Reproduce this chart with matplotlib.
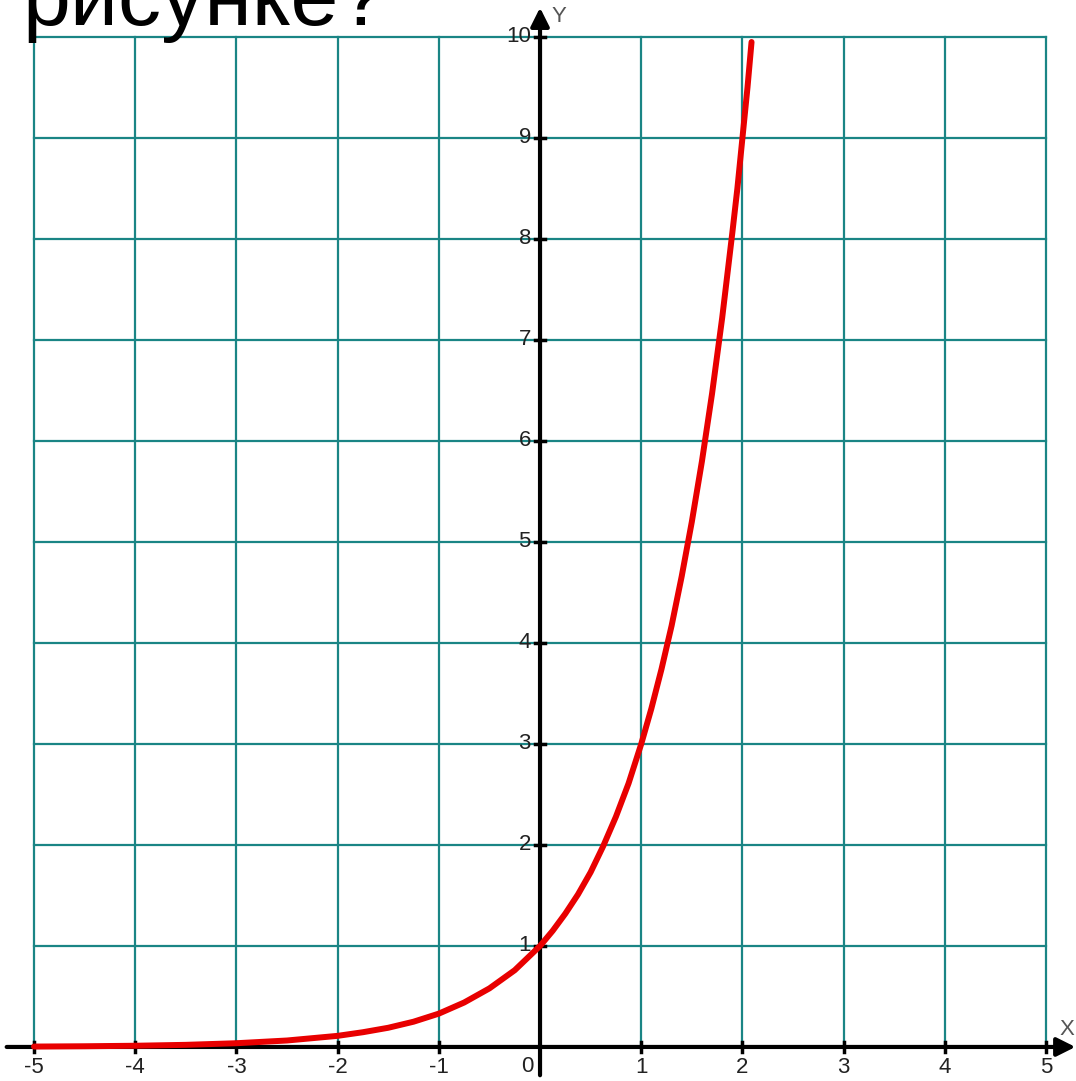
import matplotlib
matplotlib.use("Agg")
import matplotlib.pyplot as plt

# точки кривой (y = 3^x)
curve_x = [-5, -4.5, -4, -3.5, -3, -2.5, -2, -1.75, -1.5, -1.25, -1, -0.75, -0.5,
           -0.25, 0, 0.125, 0.25, 0.375, 0.5, 0.625, 0.75, 0.875, 1, 1.1, 1.2, 1.3,
           1.4, 1.5, 1.6, 1.7, 1.8, 1.9, 1.95, 2, 2.05, 2.09]
curve_y = [0.004, 0.007, 0.012, 0.021, 0.037, 0.064, 0.11, 0.146, 0.19, 0.25, 0.33,
           0.44, 0.58, 0.76, 1.0, 1.15, 1.32, 1.51, 1.73, 1.99, 2.28, 2.61, 3.0, 3.35,
           3.74, 4.17, 4.66, 5.2, 5.8, 6.47, 7.22, 8.06, 8.5, 9.0, 9.5, 9.95]

x_ticks = [-5, -4, -3, -2, -1, 1, 2, 3, 4, 5]
y_ticks = [1, 2, 3, 4, 5, 6, 7, 8, 9, 10]
title_text = "рисунке?"

GRID = "#1a8585"
RED = "#e80000"

plt.rcParams["font.family"] = ["Liberation Sans", "DejaVu Sans"]

fig = plt.figure(figsize=(10.76, 10.81), dpi=100)
ax = fig.add_axes([0, 0, 1, 1])
ax.set_xlim(-5.336, 5.296)
ax.set_ylim(-0.337, 10.366)
ax.axis("off")

# сетка
for gx in range(-5, 6):
    ax.plot([gx, gx], [0, 10], color=GRID, lw=1.6, zorder=1)
for gy in range(1, 11):
    ax.plot([-5, 5], [gy, gy], color=GRID, lw=1.6, zorder=1)

# оси со стрелками
ax.annotate("", xy=(5.29, 0), xytext=(-5.27, 0),
            arrowprops=dict(arrowstyle="-|>", lw=3, color="black", mutation_scale=28,
                            shrinkA=0, shrinkB=0), zorder=3)
ax.annotate("", xy=(0, 10.29), xytext=(0, -0.28),
            arrowprops=dict(arrowstyle="-|>", lw=3, color="black", mutation_scale=28,
                            shrinkA=0, shrinkB=0), zorder=3)

# засечки и подписи
for t in x_ticks:
    ax.plot([t, t], [-0.045, 0.045], color="black", lw=2.5, zorder=3)
    ax.text(t, -0.2, f"{t}", ha="center", va="center", fontsize=16, color="#222222")
for t in y_ticks:
    ax.plot([-0.045, 0.045], [t, t], color="black", lw=2.5, zorder=3)
    ax.text(-0.09, t, f"{t}", ha="right", va="center", fontsize=16, color="#222222")
ax.text(-0.06, -0.19, "0", ha="right", va="center", fontsize=16, color="#222222")
ax.text(0.19, 10.2, "Y", ha="center", va="center", fontsize=16, color="#555555")
ax.text(5.21, 0.17, "X", ha="center", va="center", fontsize=16, color="#555555")

# кривая
ax.plot(curve_x, curve_y, color=RED, lw=4.3, zorder=4, solid_capstyle="round",
        solid_joinstyle="round")

fig.text(22 / 1076, 1 - 25 / 1081, title_text, ha="left", va="baseline",
         fontsize=62, color="black")

fig.savefig("out.png", dpi=100)
